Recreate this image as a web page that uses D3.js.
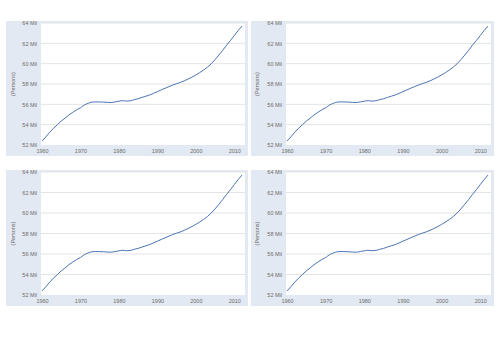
<!DOCTYPE html>
<html>
<head>
<meta charset="utf-8">
<script src="https://cdn.jsdelivr.net/npm/d3@7"></script>
<style>
  html, body { margin: 0; padding: 0; background: #fff; }
  svg { display: block; font-family: "Liberation Sans", Arial, sans-serif; }
  .tick text { fill: #6b6b6b; font-size: 5.5px; }
</style>
</head>
<body>
<svg id="canvas" width="500" height="353"></svg>
<script>
const years = d3.range(1960, 2013);
const population = [
  52.40, 52.80, 53.25, 53.65, 54.00, 54.35, 54.64, 54.96, 55.21, 55.46,
  55.66, 55.93, 56.10, 56.22, 56.24, 56.23, 56.22, 56.19, 56.18, 56.24,
  56.31, 56.36, 56.32, 56.35, 56.46, 56.55, 56.68, 56.80, 56.92, 57.08,
  57.25, 57.42, 57.58, 57.74, 57.90, 58.03, 58.16, 58.31, 58.49, 58.68,
  58.89, 59.12, 59.37, 59.65, 59.99, 60.40, 60.85, 61.32, 61.82, 62.28,
  62.77, 63.26, 63.70
];
const yTicks = [52, 54, 56, 58, 60, 62, 64];
const xTicks = [1960, 1970, 1980, 1990, 2000, 2010];
const yLabel = "(Persons)";

const data = years.map((y, i) => ({ year: y, value: population[i] }));

// four identical panels
const panels = [
  { x: 6,   y: 21,  w: 242, h: 135 },
  { x: 251, y: 21,  w: 243, h: 135 },
  { x: 6,   y: 170, w: 242, h: 136 },
  { x: 251, y: 170, w: 243, h: 136 }
];

const svg = d3.select("#canvas");

panels.forEach(p => {
  const g = svg.append("g").attr("transform", `translate(${p.x},${p.y})`);
  const m = { left: 35, right: 3, top: 2, bottom: 11 };
  const pw = p.w - m.left - m.right;
  const ph = p.h - m.top - m.bottom;

  g.append("rect").attr("width", p.w).attr("height", p.h).attr("fill", "#e3e9f2");

  const plot = g.append("g").attr("transform", `translate(${m.left},${m.top})`);
  plot.append("rect").attr("width", pw).attr("height", ph).attr("fill", "#fff");

  const x = d3.scaleLinear().domain([1960, 2012]).range([1, pw - 3]);
  const y = d3.scaleLinear().domain([52, 64]).range([ph, 0]);

  // gridlines
  plot.selectAll(".grid").data(yTicks.slice(1)).enter().append("line")
    .attr("x1", 0).attr("x2", pw)
    .attr("y1", d => y(d)).attr("y2", d => y(d))
    .attr("stroke", "#e4e4e4").attr("stroke-width", 1);

  // axes
  const yAxis = plot.append("g")
    .call(d3.axisLeft(y).tickValues(yTicks).tickFormat(d => d + " Mil").tickSize(0).tickPadding(4));
  yAxis.select(".domain").remove();

  const xAxis = plot.append("g").attr("transform", `translate(0,${ph})`)
    .call(d3.axisBottom(x).tickValues(xTicks).tickFormat(d3.format("d")).tickSize(0).tickPadding(4));
  xAxis.select(".domain").remove();

  g.append("text")
    .attr("transform", `translate(${p.x < 100 ? 7 : 6},${m.top + ph / 2}) rotate(-90)`)
    .attr("text-anchor", "middle").attr("dy", "0.35em")
    .attr("fill", "#6b6b6b").attr("font-size", "5.5px")
    .text(yLabel);

  plot.append("path").datum(data)
    .attr("fill", "none").attr("stroke", "#4a74b3").attr("stroke-width", 1)
    .attr("d", d3.line().x(d => x(d.year)).y(d => y(d.value)).curve(d3.curveMonotoneX));
});
</script>
</body>
</html>
